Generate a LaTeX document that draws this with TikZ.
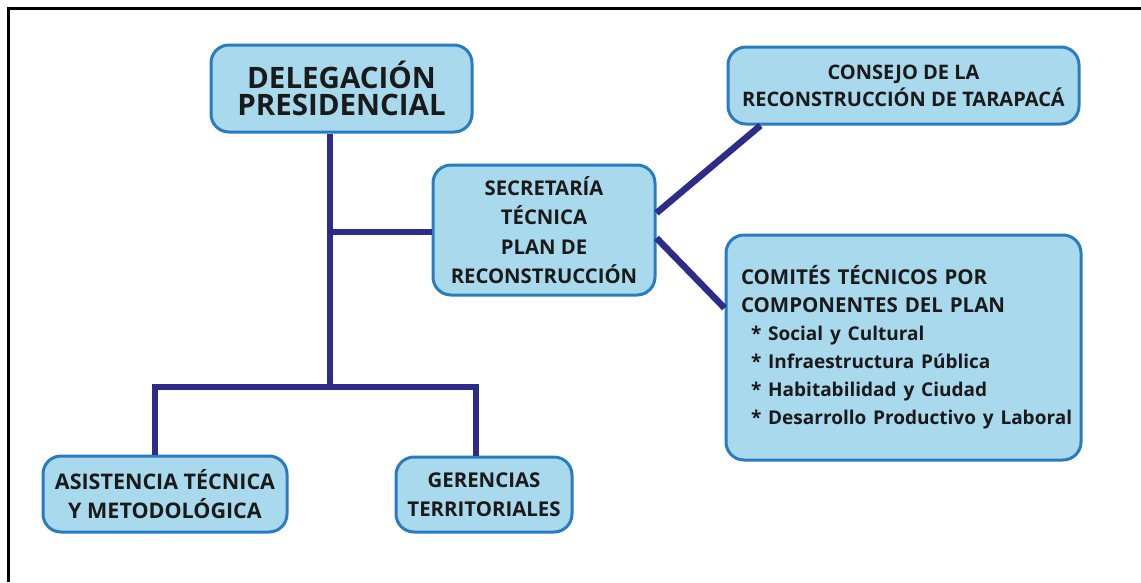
\documentclass[tikz,border=0pt]{standalone}
\usepackage{fontspec}
\setmainfont{Open Sans}
\definecolor{boxfill}{HTML}{A9D9EC}
\definecolor{boxborder}{HTML}{2A7BC1}
\definecolor{linkc}{HTML}{2E2C8A}
\definecolor{textc}{HTML}{1A1A1A}
\begin{document}
\begin{tikzpicture}[x=1pt,y=-1pt,
  box/.style={draw=boxborder, line width=3pt, fill=boxfill, rounded corners=18pt,
    align=center, inner sep=0pt, text=textc},
  link/.style={draw=linkc, line width=6.5pt}]
\fill[white] (0,0) rectangle (1141,582);
\useasboundingbox (0,0) rectangle (1141,582);
\draw[line width=3pt] (8,582) -- (8,8) -- (1141,8);

\node[box, minimum width=261pt, minimum height=87pt,
  font=\bfseries\fontsize{29.5}{27}\selectfont] (del) at (341.5,88.5) {DELEGACIÓN\\PRESIDENCIAL};
\node[box, minimum width=351pt, minimum height=77pt,
  font=\bfseries\fontsize{20}{27}\selectfont] (con) at (903.5,85.5) {CONSEJO DE LA\\RECONSTRUCCIÓN DE TARAPACÁ};
\node[box, minimum width=222pt, minimum height=130pt,
  font=\bfseries\fontsize{20.3}{29.5}\selectfont] (sec) at (544,230) {SECRETARÍA\\TÉCNICA\\PLAN DE\\RECONSTRUCCIÓN};
\node[box, text width=325pt, inner xsep=15pt, minimum height=225pt, align=left,
  font=\bfseries\fontsize{20.5}{28}\selectfont] (com) at (903.5,347.5)
  {COMITÉS TÉCNICOS POR\\COMPONENTES DEL PLAN\\
   {\fontsize{19}{28}\selectfont
   \mbox{\hspace*{10pt}* Social y Cultural}\\
   \mbox{\hspace*{10pt}* Infraestructura Pública}\\
   \mbox{\hspace*{10pt}* Habitabilidad y Ciudad}\\
   \mbox{\hspace*{10pt}* Desarrollo Productivo y Laboral}}\\[2pt]};
\node[box, minimum width=244pt, minimum height=76pt,
  font=\bfseries\fontsize{21.5}{29}\selectfont] (asi) at (165,494) {ASISTENCIA TÉCNICA\\Y METODOLÓGICA};
\node[box, minimum width=176pt, minimum height=75pt,
  font=\bfseries\fontsize{20.4}{29}\selectfont] (ger) at (484,494.5) {GERENCIAS\\TERRITORIALES};

\coordinate (jt) at (330,232);
\coordinate (jb) at (330,387);
\coordinate (jl) at (155,387);
\coordinate (jr) at (476,387);
\draw[link] (del.south -| jb) -- (jb);
\draw[link] (jt) -- (sec.west |- jt);
\draw[link] (asi.north -| jl) -- (jl) -- (jr) -- (ger.north -| jr);
\draw[link] ([yshift=17pt]sec.east) -- ([xshift=34pt]con.south west);
\draw[link] ([yshift=-8pt]sec.east) -- ([yshift=39.5pt]com.west);
\end{tikzpicture}
\end{document}
